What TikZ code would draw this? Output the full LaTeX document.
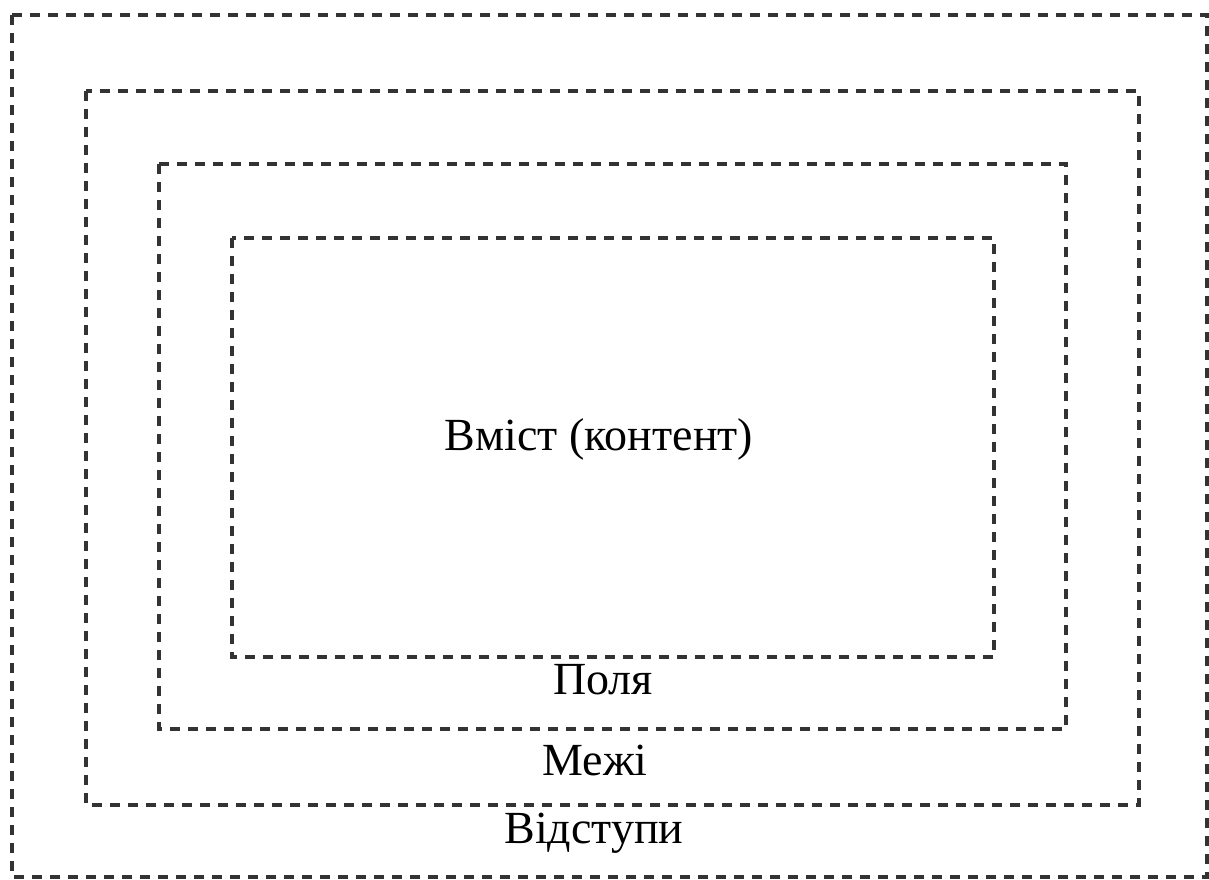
\documentclass[tikz,border=0pt]{standalone}
\usepackage{fontspec}
\setmainfont{Liberation Serif}
\begin{document}
\begin{tikzpicture}[x=1pt,y=-1pt,
  frame/.style={draw=black!80, line width=3.2pt, dash pattern=on 10pt off 8pt},
  label/.style={anchor=base, inner sep=0pt, font=\fontsize{46}{50}\selectfont}]
  \useasboundingbox (0,0) rectangle (1209,880);
  % nested boxes: padding, border, margin
  \draw[frame] (12,15) rectangle (1207,877);
  \draw[frame] (86,91) rectangle (1139,805);
  \draw[frame] (159,164) rectangle (1066,729);
  \draw[frame] (232,238) rectangle (994,657);
  % labels
  \node[label] (content) at (599,450) {Вміст (контент)};
  \node[label] (padding) at (603,694) {Поля};
  \node[label] (border) at (595,775) {Межі};
  \node[label] (margin) at (594,843) {Відступи};
\end{tikzpicture}
\end{document}
